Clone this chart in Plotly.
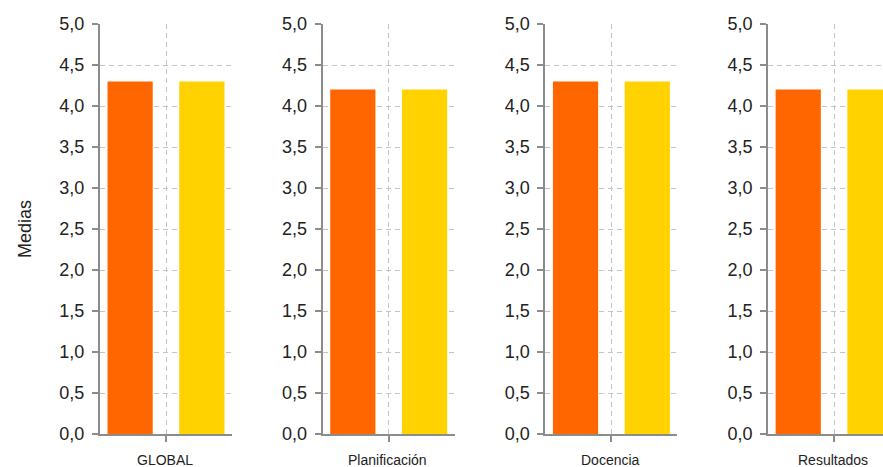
import plotly.graph_objects as go

categories = ["GLOBAL", "Planificación", "Docencia", "Resultados"]
serie_a = [4.3, 4.2, 4.3, 4.2]
serie_b = [4.3, 4.2, 4.3, 4.2]
y_tickvals = [0, 0.5, 1, 1.5, 2, 2.5, 3, 3.5, 4, 4.5, 5]
y_ticktext = ["0,0", "0,5", "1,0", "1,5", "2,0", "2,5", "3,0", "3,5", "4,0", "4,5", "5,0"]
y_title = "Medias"

COLOR_A = "#FF6600"
COLOR_B = "#FFD200"
AXIS = "#8c8c8c"
GRID = "#c4c4c4"
FONT = "Liberation Sans, Arial, sans-serif"

W, H = 883, 467
left0, step, pw = 100, 222.7, 132
x0, x1 = -0.42, 1.42
ppu = pw / (x1 - x0)

fig = go.Figure()
layout = {}
annotations = []
for i, cat in enumerate(categories):
    a = left0 + step * i
    b = min(a + pw, W)
    xr_end = x0 + (b - a) / ppu
    sfx = "" if i == 0 else str(i + 1)
    xa, ya = "x" + sfx, "y" + sfx
    fig.add_trace(go.Bar(x=[0], y=[serie_a[i]], width=0.63, marker_color=COLOR_A,
                         marker_line_width=0, xaxis=xa, yaxis=ya, showlegend=False))
    fig.add_trace(go.Bar(x=[1], y=[serie_b[i]], width=0.63, marker_color=COLOR_B,
                         marker_line_width=0, xaxis=xa, yaxis=ya, showlegend=False))
    layout["xaxis" + sfx] = dict(
        domain=[a / W, b / W], range=[x0, xr_end], anchor=ya,
        showline=True, linecolor=AXIS, linewidth=2,
        tickvals=[0.5], ticktext=[""], ticks="outside", ticklen=6,
        tickcolor=AXIS, tickwidth=2,
        showgrid=True, gridcolor=GRID, griddash="5px,4px", gridwidth=1.2,
        zeroline=False, fixedrange=True,
    )
    layout["yaxis" + sfx] = dict(
        domain=[0, 1], range=[0, 5], anchor=xa,
        showline=True, linecolor=AXIS, linewidth=2,
        tickvals=y_tickvals, ticktext=y_ticktext, ticks="outside", ticklen=6,
        tickcolor=AXIS, tickwidth=2, ticklabelstandoff=4,
        tickfont=dict(family=FONT, size=18, color="#222222"),
        showgrid=True, gridcolor=GRID, griddash="5px,4px", gridwidth=1.2,
        zeroline=False, fixedrange=True,
    )
    annotations.append(dict(
        text=cat, xref="paper", yref="paper",
        x=(a + 65) / W, y=-0.063, xanchor="center", yanchor="middle",
        showarrow=False, font=dict(family=FONT, size=14, color="#222222"),
    ))

annotations.append(dict(
    text=y_title, xref="paper", yref="paper", x=25 / W, y=0.5,
    xanchor="center", yanchor="middle", textangle=-90, showarrow=False,
    font=dict(family=FONT, size=18, color="#222222"),
))

fig.update_layout(
    width=W, height=H, autosize=False,
    margin=dict(l=0, r=0, t=24, b=33),
    paper_bgcolor="white", plot_bgcolor="white",
    barmode="overlay", annotations=annotations,
    font=dict(family=FONT),
    **layout,
)

fig.write_html(
    "out.html",
    config={"displayModeBar": False},
    post_script="document.body.style.margin='0';document.body.style.overflow='hidden';",
)
